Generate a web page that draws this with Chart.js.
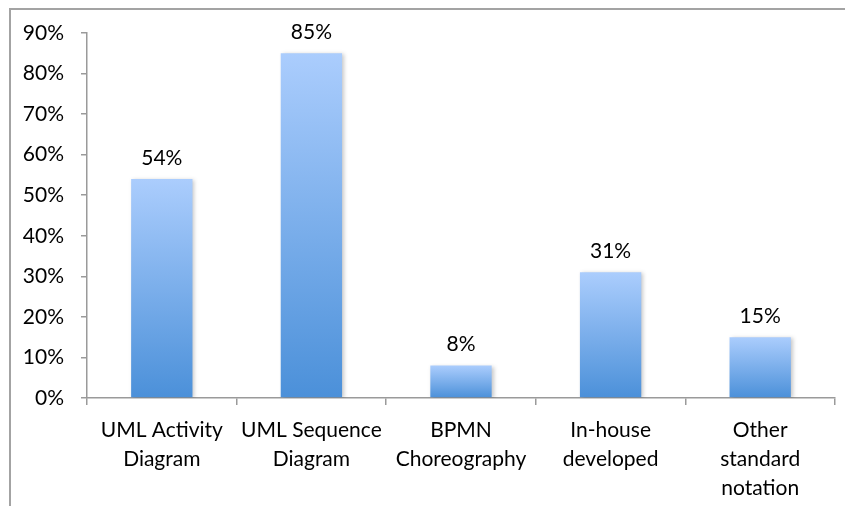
<!DOCTYPE html>
<html>
<head>
<meta charset="utf-8">
<script src="https://cdn.jsdelivr.net/npm/chart.js@4/dist/chart.umd.min.js"></script>
<style>
  html, body { margin: 0; padding: 0; background: #fff; }
  #wrap { position: relative; width: 845px; height: 506px; }
</style>
</head>
<body>
<div id="wrap"><canvas id="c" width="845" height="506"></canvas></div>
<script>
// Notation usage by category (percent of respondents)
const categories = [
  ["UML Activity", "Diagram"],
  ["UML Sequence", "Diagram"],
  ["BPMN", "Choreography"],
  ["In-house", "developed"],
  ["Other", "standard", "notation"]
];
const shares = [54, 85, 8, 31, 15];
const yTicks = [0, 10, 20, 30, 40, 50, 60, 70, 80, 90];

const FONT = "Lato, 'Liberation Sans', sans-serif";
const AXIS_GREY = "#9a9a9a";

// Vertical light-to-dark blue fill spanning each bar's own height
function barFill(ctx) {
  const chart = ctx.chart;
  if (!chart.chartArea || !chart.scales.y) return "#7fb0ee";
  const y = chart.scales.y;
  const top = y.getPixelForValue(ctx.raw);
  const bottom = y.getPixelForValue(0);
  const g = chart.ctx.createLinearGradient(0, top, 0, bottom);
  g.addColorStop(0, "#abcdfd");
  g.addColorStop(1, "#4b90d9");
  return g;
}

// Outer frame lines along the top and left edges
const framePlugin = {
  id: "frame",
  beforeDraw(chart) {
    const c = chart.ctx;
    c.save();
    c.strokeStyle = "#a3a3a3";
    c.lineWidth = 2;
    c.beginPath();
    c.moveTo(10, 506);
    c.lineTo(10, 9);
    c.lineTo(845, 9);
    c.stroke();
    c.restore();
  }
};

// Soft drop shadow behind the bars
const shadowPlugin = {
  id: "barShadow",
  beforeDatasetsDraw(chart) {
    const c = chart.ctx;
    c.save();
    c.shadowColor = "rgba(0,0,0,0.22)";
    c.shadowBlur = 4;
    c.shadowOffsetX = 2;
    c.shadowOffsetY = 1;
  },
  afterDatasetsDraw(chart) {
    chart.ctx.restore();
  }
};

// Percentage value above each bar
const valueLabels = {
  id: "valueLabels",
  afterDatasetsDraw(chart) {
    const c = chart.ctx;
    const meta = chart.getDatasetMeta(0);
    c.save();
    c.font = "21px " + FONT;
    c.fillStyle = "#000";
    c.textAlign = "center";
    c.textBaseline = "middle";
    meta.data.forEach((bar, i) => {
      c.fillText(shares[i] + "%", bar.x, bar.y - 21);
    });
    c.restore();
  }
};

new Chart(document.getElementById("c"), {
  type: "bar",
  data: {
    labels: categories,
    datasets: [{
      data: shares,
      backgroundColor: barFill,
      borderWidth: 0,
      barPercentage: 0.41,
      categoryPercentage: 1.0
    }]
  },
  options: {
    responsive: false,
    animation: false,
    devicePixelRatio: 1,
    layout: { padding: { top: 33, right: 10, left: 0, bottom: 0 } },
    plugins: {
      legend: { display: false },
      tooltip: { enabled: false }
    },
    scales: {
      y: {
        min: 0,
        max: 90,
        afterBuildTicks(scale) {
          scale.ticks = yTicks.map(v => ({ value: v }));
        },
        afterFit(scale) { scale.width = 87; },
        ticks: {
          callback: v => v + "%",
          color: "#000",
          padding: 17,
          font: { family: FONT, size: 21 }
        },
        grid: {
          drawOnChartArea: false,
          drawTicks: true,
          tickLength: 6,
          color: AXIS_GREY,
          lineWidth: 1.5
        },
        border: { display: true, color: AXIS_GREY, width: 1.5 }
      },
      x: {
        afterFit(scale) { scale.height = 108; },
        ticks: {
          color: "#000",
          padding: 11,
          maxRotation: 0,
          autoSkip: false,
          font: { family: FONT, size: 21, lineHeight: 1.38 }
        },
        grid: {
          drawOnChartArea: false,
          drawTicks: true,
          tickLength: 7,
          offset: true,
          color: AXIS_GREY,
          lineWidth: 1.5
        },
        border: { display: true, color: AXIS_GREY, width: 1.5 }
      }
    }
  },
  plugins: [framePlugin, shadowPlugin, valueLabels]
});
</script>
</body>
</html>
